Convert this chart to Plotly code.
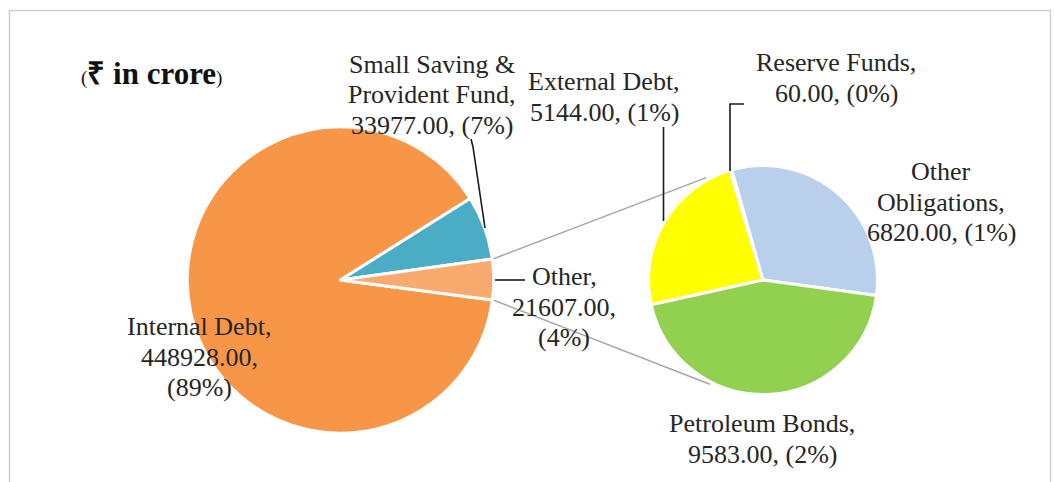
import math
import plotly.graph_objects as go

# ---------------- data ----------------
main_names = ["Internal Debt", "Small Saving & Provident Fund", "Other"]
main_values = [448928.00, 33977.00, 21607.00]
main_colors = ["#F79646", "#4BACC6", "#F9AB6F"]

sub_names = ["External Debt", "Reserve Funds", "Other Obligations", "Petroleum Bonds"]
sub_values = [5144.00, 60.00, 6820.00, 9583.00]
sub_colors = ["#FFFF00", "#4F81BD", "#B9D0EC", "#92D050"]

# label line breaks (display text, same order as the data)
main_label_text = ["Internal Debt,<br>{v},<br>({p}%)",
                   "Small Saving &<br>Provident Fund,<br>{v}, ({p}%)",
                   "Other,<br>{v},<br>({p}%)"]
sub_label_text = ["External Debt,<br>{v}, ({p}%)",
                  "Reserve Funds,<br>{v}, ({p}%)",
                  "Other<br>Obligations,<br>{v}, ({p}%)",
                  "Petroleum Bonds,<br>{v}, ({p}%)"]

title_text = "<span style='font-size:19px;font-weight:normal'>(</span><b>₹ in crore</b><span style='font-size:19px;font-weight:normal'>)</span>"

# ---------------- layout geometry (pixels) ----------------
W, H = 1055, 482
FONT = "Liberation Serif"
TXT = "#262626"
FONT_SIZE = 26
LINE_H = 30.5
BORDER_W = 3

L_CX, L_CY, L_R = 340.5, 280.0, 151.7   # left pie centre / visible radius
R_CX, R_CY, R_R = 763.0, 280.0, 113.0   # right pie centre / visible radius
L_START = -7.5    # math angle (deg) where first slice starts, clockwise
R_START = 192.5


def px(x):
    return x / W


def py(y):
    return 1 - y / H


def domain(cx, cy, r):
    rr = r + BORDER_W / 2
    return dict(x=[px(cx - rr), px(cx + rr)], y=[py(cy + rr), py(cy - rr)])


total = sum(main_values)

fig = go.Figure()
fig.add_trace(go.Pie(
    labels=main_names, values=main_values, sort=False, direction="clockwise",
    rotation=90 - L_START, textinfo="none", hole=0,
    marker=dict(colors=main_colors, line=dict(color="white", width=BORDER_W)),
    domain=domain(L_CX, L_CY, L_R), showlegend=False,
))
fig.add_trace(go.Pie(
    labels=sub_names, values=sub_values, sort=False, direction="clockwise",
    rotation=90 - R_START, textinfo="none",
    marker=dict(colors=sub_colors, line=dict(color="white", width=BORDER_W)),
    domain=domain(R_CX, R_CY, R_R), showlegend=False,
))

# ---------------- connector lines between the pies ----------------
frac_other = main_values[2] / total
other_hi = L_START + 360 * frac_other      # upper edge of "Other" slice
other_lo = L_START                          # lower edge


def on_circle(cx, cy, r, ang):
    a = math.radians(ang)
    return cx + r * math.cos(a), cy - r * math.sin(a)


shapes = []
for la, ra in [(other_hi, 119.0), (other_lo, -117.0)]:
    x0, y0 = on_circle(L_CX, L_CY, L_R + 3, la)
    x1, y1 = on_circle(R_CX, R_CY, R_R + 4, ra)
    shapes.append(dict(type="line", xref="paper", yref="paper",
                       x0=px(x0), y0=py(y0), x1=px(x1), y1=py(y1),
                       line=dict(color="#A6A6A6", width=1.5)))

# ---------------- leader lines ----------------
leaders = [
    [(471, 139), (473, 147), (485, 228)],       # small saving
    [(663.5, 127), (663.5, 221)],               # external debt
    [(744, 104), (730, 104), (730, 171)],       # reserve funds
    [(495, 280), (525, 280)],                   # other
]
for pts in leaders:
    path = "M " + " L ".join(f"{px(x)},{py(y)}" for x, y in pts)
    shapes.append(dict(type="path", xref="paper", yref="paper", path=path,
                       line=dict(color="#1a1a1a", width=1.6)))

# outer chart border
shapes.append(dict(type="rect", xref="paper", yref="paper",
                   x0=px(9.5), x1=px(1050.5), y0=py(560), y1=py(10.5),
                   line=dict(color="#D0D0D0", width=1.5), fillcolor="rgba(0,0,0,0)"))

# ---------------- labels ----------------
main_pos = [(199, 357), (432, 95), (564, 307)]
sub_pos = [(604, 97), (836, 78), (941, 202), (762, 439)]

annotations = []


def add_label(txt, x, y):
    lines = txt.split("<br>")
    n = len(lines)
    for i, ln in enumerate(lines):
        yy = y + (i - (n - 1) / 2) * LINE_H
        annotations.append(dict(x=px(x), y=py(yy), xref="paper", yref="paper",
                                text=ln, showarrow=False, xanchor="center", yanchor="middle",
                                font=dict(family=FONT, size=FONT_SIZE, color=TXT)))


for txt, v, (x, y) in zip(main_label_text, main_values, main_pos):
    add_label(txt.format(v=f"{v:.2f}", p=round(100 * v / total)), x, y)
for txt, v, (x, y) in zip(sub_label_text, sub_values, sub_pos):
    add_label(txt.format(v=f"{v:.2f}", p=round(100 * v / total)), x, y)

annotations.append(dict(x=px(79), y=py(73), xref="paper", yref="paper", text=title_text,
                        showarrow=False, xanchor="left", yanchor="middle",
                        font=dict(family=FONT, size=31, color="#111111")))

fig.update_layout(
    width=W, height=H, margin=dict(l=0, r=0, t=0, b=0),
    paper_bgcolor="white", plot_bgcolor="white",
    font=dict(family=FONT),
    shapes=shapes, annotations=annotations,
)

fig.write_html("out.html")
